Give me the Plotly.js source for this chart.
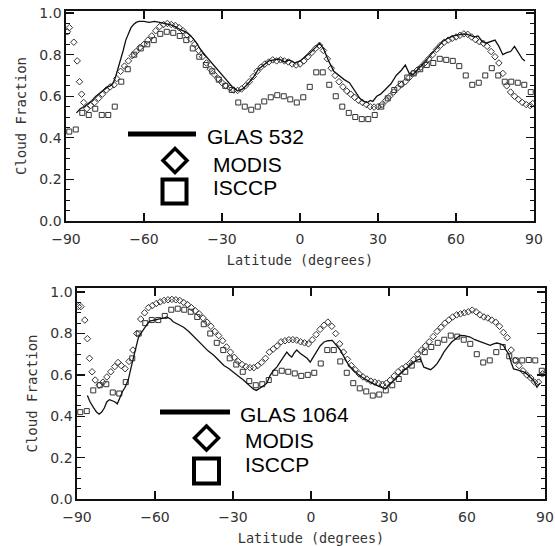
<!DOCTYPE html>
<html><head><meta charset="utf-8">
<script src="https://cdn.plot.ly/plotly-3.0.1.min.js"></script>
<style>html,body{margin:0;padding:0;background:#fff}#c{width:555px;height:546px}</style>
</head><body><div id="c"></div>
<script>
// ---------- DATA ----------
// Top panel: GLAS 532
const glas532Lat = [-86,-84.5,-83,-81.5,-80,-78.5,-77,-75.5,-74,-73,-72,-71,-70,-69,-68,-67,-66,-65,-64,-63,-62,-60,-58,-56,-54,-52,-50,-48,-46,-44,-42,-40,-38,-36,-34,-32,-30,-28,-26,-24,-22,-20,-18,-16,-14,-12,-10,-8,-6,-4,-2,0,2,4,6,7.5,9,11,13,15,17,19,21,23,24.5,26,27,28,29.5,31,33,35,37,39,40.5,42,43.5,45,47,49,51,53,55,57,59,61,63,65,67,68.5,70,71.5,73,75,76.5,78,79.5,81,82.5,84,85.5,86.5];
const glas532Val = [.52,.54,.55,.565,.58,.60,.615,.63,.645,.65,.66,.69,.73,.77,.82,.87,.905,.93,.945,.955,.96,.96,.955,.96,.955,.95,.945,.935,.92,.91,.89,.86,.82,.79,.76,.73,.70,.67,.645,.625,.635,.66,.69,.73,.75,.77,.775,.78,.765,.775,.76,.77,.79,.81,.835,.855,.83,.77,.72,.70,.68,.665,.63,.59,.575,.57,.58,.575,.60,.61,.635,.66,.70,.725,.75,.71,.705,.725,.75,.78,.81,.84,.865,.88,.89,.895,.90,.895,.885,.89,.865,.855,.86,.87,.84,.80,.81,.815,.84,.81,.78,.77];
// Top panel: MODIS
const modisTopLat = [-89.5,-88.7,-87,-85.7,-84.8,-84,-83.2,-82,-80.5,-79,-77.5,-76,-74.5,-73,-71.5,-70.5,-69,-67.5,-66,-64.5,-63,-61.5,-60,-58.5,-57,-55.5,-54,-52.5,-51,-49.5,-48,-46.5,-45,-43.5,-42,-40.5,-39,-37.5,-36,-34.5,-33,-31.5,-30,-28.5,-27,-25.5,-24,-22.5,-21,-19.5,-18,-16.5,-15,-13.5,-12,-10.5,-9,-7.5,-6,-4.5,-3,-1.5,0,1.5,3,4.5,6,7.5,9,10.5,12,13.5,15,16.5,18,19.5,21,22.5,24,25.5,27,28.5,30,31.5,33,34.5,36,37.5,39,40.5,42,43.5,45,46.5,48,49.5,51,52.5,54,55.5,57,58.5,60,61.5,63,64.5,66,67.5,69,70.5,72,73.5,75,76.5,78,79.5,81,82.5,84,85.5,87,88.5,89.5];
const modisTopVal = [.91,.93,.86,.77,.67,.61,.57,.54,.555,.57,.59,.61,.63,.645,.655,.685,.72,.745,.77,.795,.815,.835,.85,.87,.89,.915,.935,.945,.95,.945,.94,.93,.915,.895,.875,.85,.82,.79,.76,.73,.705,.685,.665,.65,.64,.63,.628,.635,.65,.67,.695,.72,.74,.755,.765,.775,.77,.775,.77,.765,.755,.75,.755,.77,.79,.81,.83,.845,.82,.78,.735,.70,.67,.645,.625,.61,.595,.58,.57,.56,.55,.548,.55,.56,.58,.60,.62,.64,.655,.67,.69,.71,.725,.74,.76,.78,.80,.825,.845,.86,.87,.878,.885,.893,.90,.898,.885,.872,.862,.855,.84,.815,.79,.76,.71,.65,.62,.60,.585,.57,.56,.555,.565,.58];
// Top panel: ISCCP
const isccpTopLat = [-88.75,-86.25,-83.75,-81.25,-78.75,-76.25,-73.75,-71.25,-68.75,-66.25,-63.75,-61.25,-58.75,-56.25,-53.75,-51.25,-48.75,-46.25,-43.75,-41.25,-38.75,-36.25,-33.75,-31.25,-28.75,-26.25,-23.75,-21.25,-18.75,-16.25,-13.75,-11.25,-8.75,-6.25,-3.75,-1.25,1.25,3.75,6.25,8.75,11.25,13.75,16.25,18.75,21.25,23.75,26.25,28.75,31.25,33.75,36.25,38.75,41.25,43.75,46.25,48.75,51.25,53.75,56.25,58.75,61.25,63.75,66.25,68.75,71.25,73.75,76.25,78.75,81.25,83.75,86.25,88.75];
const isccpTopVal = [.43,.44,.52,.51,.54,.51,.51,.55,.67,.73,.80,.83,.85,.87,.90,.91,.905,.89,.87,.83,.79,.75,.72,.68,.65,.63,.57,.55,.535,.55,.575,.595,.605,.60,.585,.57,.595,.645,.715,.715,.655,.60,.55,.52,.50,.49,.49,.51,.55,.59,.63,.66,.69,.71,.73,.75,.76,.78,.775,.77,.745,.70,.655,.665,.70,.735,.70,.67,.67,.665,.655,.62];

// Bottom panel: GLAS 1064
const glas1064Lat = [-86,-85,-83.7,-82.5,-81.5,-80.5,-79.5,-78.5,-77.5,-76.5,-75.5,-74.5,-73.5,-72.5,-71.5,-70.3,-69.3,-68.3,-67.3,-66.4,-65.5,-64.5,-63,-62,-60,-58,-56.5,-55.5,-54,-53,-51,-49,-47,-45,-43,-41.3,-39.5,-37.4,-35.5,-33.5,-31.5,-30,-28,-26,-24,-22.2,-21,-19.6,-18,-17,-15.8,-14.5,-13,-11.9,-10.5,-9.3,-8.3,-7.4,-6.5,-5.5,-4.2,-2.9,-1.5,-0.3,1,2.3,3.5,5,6.5,8.2,9.8,11.4,13,14.6,16.2,17.8,19.5,21.6,23.5,25.3,27,28.6,30,31.8,33.5,35.7,37.5,39.5,41,42.1,43.4,44.7,46,47.3,48.5,50,51.1,52.6,54.1,55.7,57.3,59,61.2,63,65.1,67,68.9,70.2,71.5,72.8,74,75,76,77,77.9,79,80.5,81.8,83,84.3,85.6,86.9,88];
const glas1064Val = [.50,.47,.443,.42,.41,.42,.44,.47,.48,.475,.47,.46,.49,.52,.54,.575,.63,.686,.74,.78,.80,.82,.845,.86,.865,.87,.875,.88,.87,.857,.845,.83,.81,.785,.76,.735,.715,.695,.67,.645,.63,.613,.595,.575,.55,.532,.525,.535,.55,.56,.595,.62,.64,.662,.69,.71,.695,.686,.705,.72,.705,.694,.68,.662,.69,.718,.74,.759,.765,.767,.745,.718,.68,.645,.625,.605,.59,.573,.56,.549,.54,.532,.55,.573,.595,.621,.64,.662,.672,.678,.637,.63,.625,.638,.654,.685,.71,.735,.759,.775,.791,.79,.783,.77,.759,.75,.743,.75,.754,.75,.743,.72,.702,.66,.629,.625,.621,.615,.605,.59,.573,.54,.56];
// Bottom panel: MODIS
const modisBotLat = [-89.5,-88.5,-87,-86,-85.2,-84.2,-83,-81.5,-80,-78.5,-77,-75.5,-74.2,-73,-71.5,-70,-68.5,-67,-65.5,-64,-62.5,-61,-59.5,-58,-56.5,-55,-53.5,-52,-50.5,-49,-47.5,-46,-44.5,-43,-41.5,-40,-38.5,-37,-35.5,-34,-32.5,-31,-29.5,-28,-26.5,-25,-23.5,-22,-20.5,-19,-17.5,-16,-14.5,-13,-11.5,-10,-8.5,-7,-5.5,-4,-2.5,-1,0.5,2,3.5,5,6.5,8,9.5,11,12.5,14,15.5,17,18.5,20,21.5,23,24.5,26,27.5,29,30.5,32,33.5,35,36.5,38,39.5,41,42.5,44,45.5,47,48.5,50,51.5,53,54.5,56,57.5,59,60.5,62,63.5,65,66.5,68,69.5,71,72.5,74,75.5,77,78.5,80,81.5,83,84.5,86,87.5,89];
const modisBotVal = [.93,.93,.865,.775,.68,.615,.575,.55,.565,.59,.615,.64,.66,.645,.63,.665,.72,.80,.87,.90,.925,.935,.945,.953,.96,.963,.965,.963,.96,.95,.94,.925,.91,.895,.875,.855,.835,.81,.79,.765,.735,.71,.685,.665,.65,.64,.635,.635,.645,.66,.68,.71,.725,.74,.76,.765,.77,.77,.768,.76,.755,.75,.77,.795,.82,.84,.855,.835,.80,.75,.71,.675,.645,.625,.605,.59,.58,.57,.565,.56,.555,.56,.575,.595,.615,.63,.64,.655,.675,.70,.72,.74,.76,.785,.81,.83,.85,.865,.88,.89,.895,.90,.905,.913,.905,.89,.88,.875,.865,.855,.835,.805,.78,.72,.67,.645,.62,.60,.585,.565,.565,.605];
// Bottom panel: ISCCP
const isccpBotLat = isccpTopLat.slice();
const isccpBotVal = [.42,.425,.525,.55,.555,.515,.51,.565,.68,.80,.85,.865,.865,.885,.915,.92,.915,.905,.88,.845,.80,.755,.72,.68,.65,.615,.57,.55,.555,.575,.61,.62,.615,.607,.595,.60,.61,.655,.72,.72,.665,.61,.56,.535,.52,.50,.505,.525,.55,.58,.615,.645,.675,.71,.735,.755,.77,.79,.785,.77,.75,.70,.66,.67,.71,.735,.69,.67,.67,.672,.67,.62];

const xTicks = [-90,-60,-30,0,30,60,90];
const yTicks = [0,0.2,0.4,0.6,0.8,1.0];
const yTickText = ['0.0','0.2','0.4','0.6','0.8','1.0'];
const legendTop = ['GLAS 532','MODIS','ISCCP'];
const legendBot = ['GLAS 1064','MODIS','ISCCP'];
const xTitle = 'Latitude (degrees)';
const yTitle = 'Cloud Fraction';

// ---------- LAYOUT ----------
const W = 555, H = 546;
const PX = x => x / W, PY = y => 1 - y / H;
const tickFont = {family: 'DejaVu Sans', size: 14, color: '#333'};
const xTitleFont = {family: 'DejaVu Sans Mono', size: 13.5, color: '#333'};
const yTitleFont = {family: 'DejaVu Sans Mono', size: 14, color: '#333'};

function xax(domain, anchor) {
  return {domain, anchor, range: [-90, 90], tickmode: 'array', tickvals: xTicks,
    ticks: 'inside', ticklen: 8, tickwidth: 1.3, tickcolor: '#111', ticklabelstandoff: 5,
    showline: true, linecolor: '#111', linewidth: 1.6, mirror: 'ticks',
    showgrid: false, zeroline: false, tickfont: tickFont,
    title: {text: xTitle, font: xTitleFont, standoff: 9}};
}
function yax(domain, anchor, top) {
  return {domain, anchor, range: [0, top], tickmode: 'array', tickvals: yTicks, ticktext: yTickText,
    ticks: 'inside', ticklen: 8, tickwidth: 1.3, tickcolor: '#111',
    minor: {dtick: 0.05, tick0: 0, ticks: 'inside', ticklen: 4, tickwidth: 1, tickcolor: '#111'},
    showline: true, linecolor: '#111', linewidth: 1.6, mirror: 'ticks',
    showgrid: false, zeroline: false, tickfont: tickFont,
    title: {text: yTitle, font: yTitleFont, standoff: 9}};
}

const lineStyle = {color: '#111', width: 1.3};
const diaStyle = {symbol: 'diamond-open', size: 5, color: '#333', line: {width: 1, color: '#333'}};
const sqStyle = {symbol: 'square-open', size: 5, color: '#333', line: {width: 1, color: '#333'}};

const traces = [
  {x: isccpTopLat, y: isccpTopVal, xaxis: 'x', yaxis: 'y', mode: 'markers', marker: sqStyle, name: 'ISCCP'},
  {x: modisTopLat, y: modisTopVal, xaxis: 'x', yaxis: 'y', mode: 'markers', marker: diaStyle, name: 'MODIS'},
  {x: glas532Lat, y: glas532Val, xaxis: 'x', yaxis: 'y', mode: 'lines', line: lineStyle, name: 'GLAS 532'},
  {x: isccpBotLat, y: isccpBotVal, xaxis: 'x2', yaxis: 'y2', mode: 'markers', marker: sqStyle, name: 'ISCCP'},
  {x: modisBotLat, y: modisBotVal, xaxis: 'x2', yaxis: 'y2', mode: 'markers', marker: diaStyle, name: 'MODIS'},
  {x: glas1064Lat, y: glas1064Val, xaxis: 'x2', yaxis: 'y2', mode: 'lines', line: lineStyle, name: 'GLAS 1064'}
];

// legend drawn by hand (big symbols as in the reference)
function legendItems(lineX0, lineX1, lineY, txtX0, txtY, labels, dia, sq) {
  const shapes = [
    {type: 'line', xref: 'paper', yref: 'paper', x0: PX(lineX0), x1: PX(lineX1), y0: PY(lineY), y1: PY(lineY), line: {color: '#000', width: 5}},
    {type: 'path', xref: 'paper', yref: 'paper',
     path: `M ${PX(dia[0]-dia[2])},${PY(dia[1])} L ${PX(dia[0])},${PY(dia[1]-dia[2])} L ${PX(dia[0]+dia[2])},${PY(dia[1])} L ${PX(dia[0])},${PY(dia[1]+dia[2])} Z`,
     line: {color: '#000', width: 3.5}},
    {type: 'rect', xref: 'paper', yref: 'paper', x0: PX(sq[0]-sq[2]), x1: PX(sq[0]+sq[2]), y0: PY(sq[1]+sq[2]), y1: PY(sq[1]-sq[2]), line: {color: '#000', width: 4}}
  ];
  const ann = labels.map((t, i) => ({text: t, xref: 'paper', yref: 'paper', x: PX(txtX0[i]), y: PY(txtY[i]),
    xanchor: 'left', yanchor: 'middle', showarrow: false, font: {family: 'Liberation Sans', size: 21, color: '#000'}}));
  return {shapes, ann};
}
const lt = legendItems(128, 196, 134, [205, 211, 211], [136, 164, 187], legendTop, [175, 160.5, 12], [174.5, 191.5, 12]);
const lb = legendItems(160, 230, 412, [238, 243, 243], [414, 440, 464], legendBot, [206.5, 438, 12], [206.5, 471, 12.5]);

const layout = {
  width: W, height: H, margin: {l: 0, r: 0, t: 0, b: 0},
  paper_bgcolor: '#fff', plot_bgcolor: '#fff', showlegend: false,
  xaxis: xax([PX(66), PX(534)], 'y'),
  yaxis: yax([PY(221), PY(11)], 'x', 1.01),
  xaxis2: xax([PX(77), PX(545)], 'y2'),
  yaxis2: yax([PY(499), PY(288)], 'x2', 1.02),
  shapes: lt.shapes.concat(lb.shapes),
  annotations: lt.ann.concat(lb.ann)
};
Plotly.newPlot('c', traces, layout, {staticPlot: true, displayModeBar: false});
</script></body></html>
